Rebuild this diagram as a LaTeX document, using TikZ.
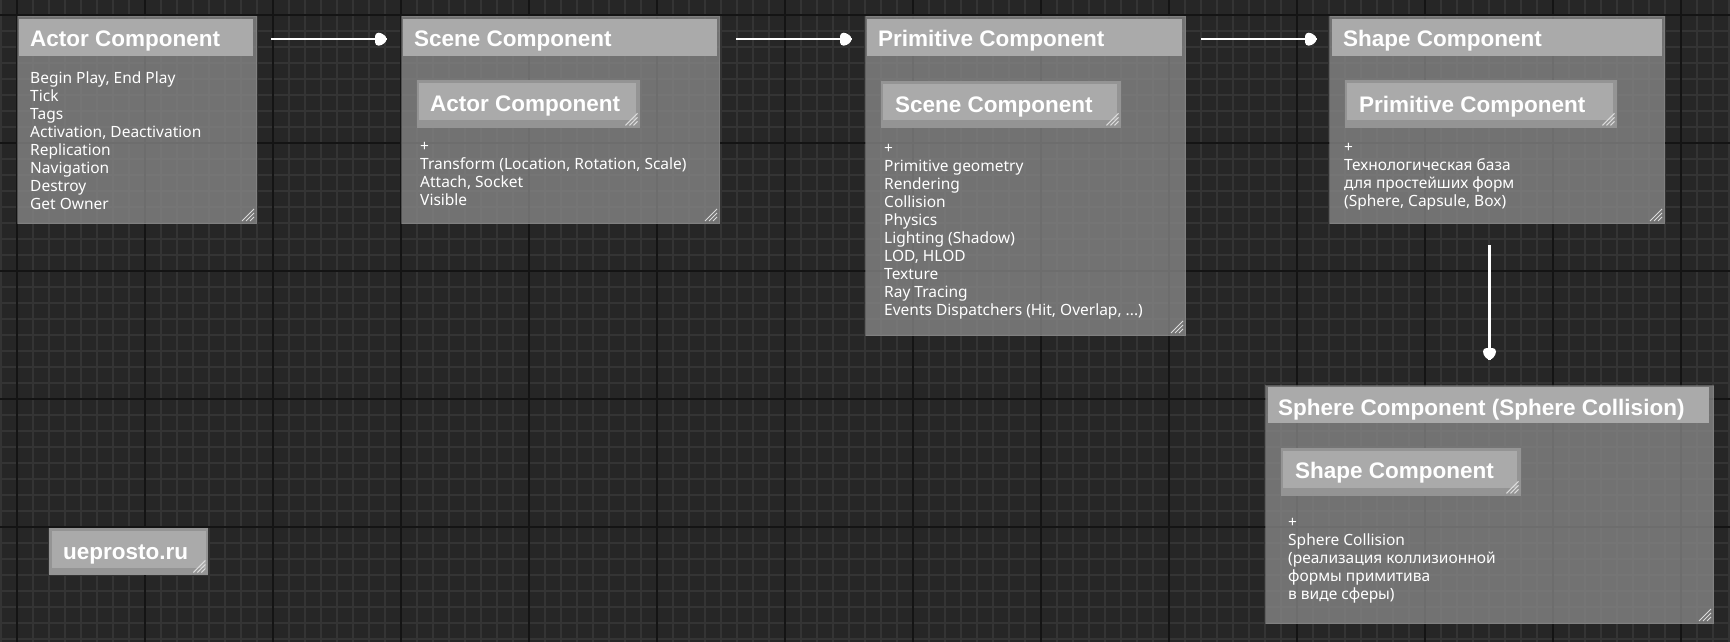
\documentclass[tikz,border=0pt]{standalone}
\usepackage{fontspec}
\setmainfont{Noto Sans}
\newfontfamily\titlefont{Liberation Sans}
\usetikzlibrary{decorations.markings}
\definecolor{canvas}{HTML}{262626}
\definecolor{minorgrid}{HTML}{343434}
\definecolor{majorgrid}{HTML}{141414}
\definecolor{bodygray}{HTML}{8C8C8C}
\definecolor{headgray}{HTML}{AAAAAA}
\definecolor{framegray}{HTML}{949494}
\definecolor{gripgray}{HTML}{DCDCDC}
\newcommand{\resizegrip}[1]{%
	\draw[grip line] ([xshift=-15pt,yshift=3pt]#1.south east) -- ([xshift=-3pt,yshift=15pt]#1.south east);
	\draw[grip line] ([xshift=-11pt,yshift=3pt]#1.south east) -- ([xshift=-3pt,yshift=11pt]#1.south east);
	\draw[grip line] ([xshift=-7pt,yshift=3pt]#1.south east) -- ([xshift=-3pt,yshift=7pt]#1.south east);}
\begin{document}
\begin{tikzpicture}
			[x=1pt,y=-1pt,
			minor line/.style={minorgrid,line width=1.2pt},
			major line/.style={majorgrid,line width=2pt},
			node body/.style={anchor=north west,inner sep=0pt,fill=bodygray,fill opacity=0.75,
				draw=bodygray,draw opacity=0.5,line width=1pt},
			node head/.style={anchor=north west,inner sep=0pt,fill=headgray},
			node frame/.style={anchor=north west,inner sep=0pt,fill=framegray},
			title text/.style={anchor=base west,inner sep=0pt,text=white,
				font=\titlefont\bfseries\fontsize{22.5}{26}\selectfont},
			body text/.style={anchor=north west,inner sep=0pt,text=white,align=left,
				font=\fontsize{15.5}{18}\selectfont},
			grip line/.style={gripgray,line width=1pt},
			exec wire/.style={white,line width=2.6pt,
				decoration={markings,mark=at position 1 with {\fill[white,rounded corners=3.5pt]
					(-12pt,-6.5pt) -- (-5pt,-6.5pt) -- (1pt,0pt) -- (-5pt,6.5pt) -- (-12pt,6.5pt) -- cycle;}},
				postaction={decorate}}]
			\useasboundingbox (0,0) rectangle (1730,642);
			\fill[canvas] (0,0) rectangle (1730,642);
			% grid
			\foreach \gx in {1,17,...,1729} \draw[minor line] (\gx,0) -- (\gx,642);
			\foreach \gy in {15,31,...,639} \draw[minor line] (0,\gy) -- (1730,\gy);
			\foreach \gx in {17,145,...,1681} \draw[major line] (\gx,0) -- (\gx,642);
			\foreach \gy in {15,143,...,527} \draw[major line] (0,\gy) -- (1730,\gy);
			% Actor Component
			\node[node body,minimum width=239pt,minimum height=207pt] (actor) at (17,16) {};
			\node[node head,minimum width=234pt,minimum height=37pt] (actorhd) at (19,19) {};
			\node[title text] (actortitle) at (30,47) {Actor Component};
			\node[body text] (actortext) at (30,70.4) {\strut Begin Play, End Play\\Tick\\Tags\\
				Activation, Deactivation\\Replication\\Navigation\\Destroy\\Get Owner};
			\resizegrip{actor}
			% Scene Component
			\node[node body,minimum width=318pt,minimum height=207pt] (scene) at (401,16) {};
			\node[node head,minimum width=314pt,minimum height=37pt] (scenehd) at (403,19) {};
			\node[title text] (scenetitle) at (414,47) {Scene Component};
			\node[node frame,minimum width=223pt,minimum height=48pt] (scenebase) at (417,80) {};
			\node[node head,minimum width=217pt,minimum height=37pt] (scenebasehd) at (419,83) {};
			\node[title text] (scenebasetitle) at (430,111) {Actor Component};
			\node[body text] (scenetext) at (420,138.4) {\strut +\\Transform (Location, Rotation, Scale)\\
				Attach, Socket\\Visible};
			\resizegrip{scenebase}
			\resizegrip{scene}
			% Primitive Component
			\node[node body,minimum width=320pt,minimum height=319pt] (prim) at (865,16) {};
			\node[node head,minimum width=315pt,minimum height=37pt] (primhd) at (867,19) {};
			\node[title text] (primtitle) at (878,47) {Primitive Component};
			\node[node frame,minimum width=240pt,minimum height=47pt] (primbase) at (881,81) {};
			\node[node head,minimum width=234pt,minimum height=36pt] (primbasehd) at (883,84) {};
			\node[title text] (primbasetitle) at (895,112) {Scene Component};
			\node[body text] (primtext) at (884,140.4) {\strut +\\Primitive geometry\\Rendering\\Collision\\
				Physics\\Lighting (Shadow)\\LOD, HLOD\\Texture\\Ray Tracing\\
				Events Dispatchers (Hit, Overlap, ...)};
			\resizegrip{primbase}
			\resizegrip{prim}
			% Shape Component
			\node[node body,minimum width=335pt,minimum height=207pt] (shape) at (1329,16) {};
			\node[node head,minimum width=330pt,minimum height=37pt] (shapehd) at (1332,19) {};
			\node[title text] (shapetitle) at (1343,47) {Shape Component};
			\node[node frame,minimum width=272pt,minimum height=48pt] (shapebase) at (1345,80) {};
			\node[node head,minimum width=266pt,minimum height=37pt] (shapebasehd) at (1347,83) {};
			\node[title text] (shapebasetitle) at (1359,112) {Primitive Component};
			\node[body text] (shapetext) at (1344,139.4) {\strut +\\Технологическая база\\
				для простейших форм\\(Sphere, Capsule, Box)};
			\resizegrip{shapebase}
			\resizegrip{shape}
			% Sphere Component
			\node[node body,minimum width=448pt,minimum height=238pt] (sphere) at (1265,385) {};
			\node[node head,minimum width=441pt,minimum height=36pt] (spherehd) at (1268,387) {};
			\node[title text] (spheretitle) at (1278,415) {Sphere Component (Sphere Collision)};
			\node[node frame,minimum width=240pt,minimum height=48pt] (spherebase) at (1281,448) {};
			\node[node head,minimum width=234pt,minimum height=37pt] (spherebasehd) at (1283,451) {};
			\node[title text] (spherebasetitle) at (1295,478) {Shape Component};
			\node[body text] (spheretext) at (1288,514.4) {\strut +\\Sphere Collision\\
				(реализация коллизионной\\формы примитива\\в виде сферы)};
			\resizegrip{spherebase}
			\resizegrip{sphere}
			% site
			\node[node frame,minimum width=159pt,minimum height=47pt] (site) at (49,528) {};
			\node[node head,minimum width=154pt,minimum height=37pt] (sitehd) at (52,531) {};
			\node[title text] (sitetitle) at (63,559) {ueprosto.ru};
			\resizegrip{site}
			% wires
			\draw[exec wire] ([xshift=18pt,yshift=-1.5pt]actorhd.east) -- ([xshift=-16pt,yshift=-1.5pt]scenehd.west);
			\draw[exec wire] ([xshift=19pt,yshift=-1.5pt]scenehd.east) -- ([xshift=-15pt,yshift=-1.5pt]primhd.west);
			\draw[exec wire] ([xshift=19pt,yshift=-1.5pt]primhd.east) -- ([xshift=-15pt,yshift=-1.5pt]shapehd.west);
			\draw[exec wire] ([yshift=-21pt]sphere.north |- shape.south) -- ([yshift=25pt]sphere.north);
		\end{tikzpicture}
\end{document}
